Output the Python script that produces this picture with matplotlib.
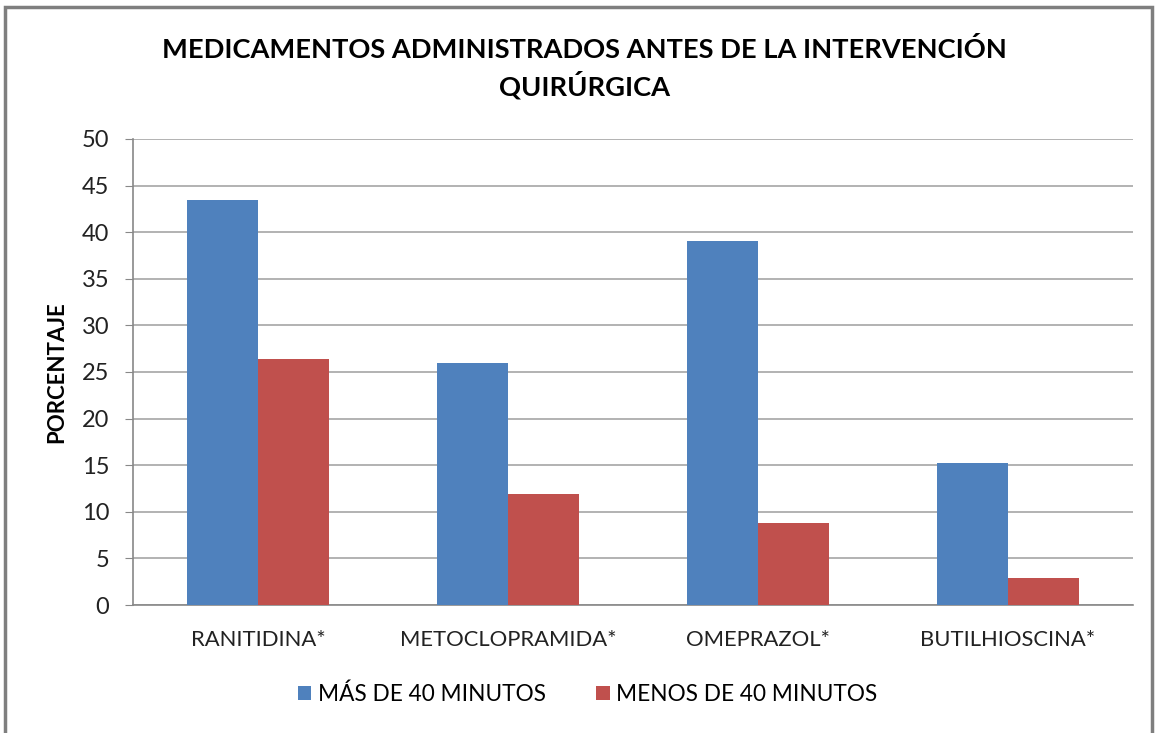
import matplotlib
matplotlib.use("Agg")
import matplotlib.pyplot as plt
import numpy as np
from matplotlib.patches import Rectangle

categories = ["RANITIDINA*", "METOCLOPRAMIDA*", "OMEPRAZOL*", "BUTILHIOSCINA*"]
mas_40 = [43.5, 26.0, 39.1, 15.2]
menos_40 = [26.4, 11.9, 8.8, 2.9]
series_names = ["MÁS DE 40 MINUTOS", "MENOS DE 40 MINUTOS"]
yticks = [0, 5, 10, 15, 20, 25, 30, 35, 40, 45, 50]

plt.rcParams['font.family'] = ['Lato', 'DejaVu Sans']

fig = plt.figure(figsize=(11.57, 7.33), dpi=100)
ax = fig.add_axes([0.115, 0.1746, 0.864, 0.6358])

x = np.arange(len(categories))
w = 0.284
b1 = ax.bar(x - w/2, mas_40, w, color="#4F81BD", label=series_names[0], zorder=3)
b2 = ax.bar(x + w/2, menos_40, w, color="#C0504D", label=series_names[1], zorder=3)

ax.set_xlim(-0.5, len(categories) - 0.5)
ax.set_ylim(0, 50)
ax.set_yticks(yticks)
ax.set_xticks(x)
ax.set_xticklabels(categories, fontsize=15.8, color="#222222")
ax.tick_params(axis='y', labelsize=17, colors="#222222", length=6, color="#888888", pad=11)
ax.tick_params(axis='x', length=0, pad=18)
ax.yaxis.grid(True, color="#a6a6a6", linewidth=1.2, zorder=0)
for s in ["top", "right"]:
    ax.spines[s].set_visible(False)
ax.spines["left"].set_color("#888888")
ax.spines["bottom"].set_color("#888888")
ax.spines["left"].set_linewidth(1.2)
ax.spines["bottom"].set_linewidth(1.2)

ax.set_ylabel("PORCENTAJE", fontsize=16, fontweight="bold")
ax.yaxis.set_label_coords(-0.066, 0.5)

fig.text(0.505, 0.907, "MEDICAMENTOS ADMINISTRADOS ANTES DE LA INTERVENCIÓN\nQUIRÚRGICA",
         ha="center", va="center", fontsize=19.6, fontweight="bold", linespacing=1.35)

leg = fig.legend(handles=[b1, b2], loc="center", bbox_to_anchor=(0.508, 0.053), ncol=2,
                 frameon=False, fontsize=16.3, handlelength=0.6, handleheight=0.6,
                 handletextpad=0.3, columnspacing=2.2)

fig.patches.append(Rectangle((0.004, -0.01), 0.992, 1.0, transform=fig.transFigure,
                             fill=False, edgecolor="#7f7f7f", linewidth=2.5))

fig.savefig("out.png", dpi=100)
